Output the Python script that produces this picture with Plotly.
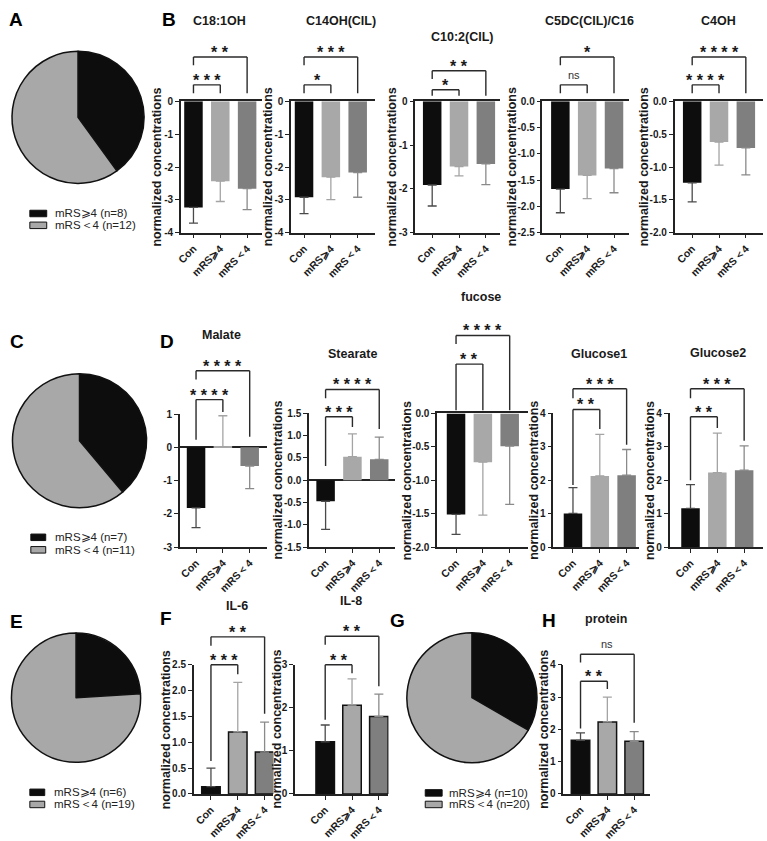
import numpy as np
import plotly.graph_objects as go

W, H = 767, 841
FONT = "Liberation Sans, Arial, sans-serif"
INK = "#1a1a1a"
STEP = 27.0  # px per category


def X(px):
    return px / W


def Y(py):
    return 1 - py / H


# ---------------- data ----------------
groups = ["Con", "mRS⩾4", "mRS＜4"]
bar_colors = ["#0d0d0d", "#a8a8a8", "#7f7f7f"]
err_colors = ["#4a4a4a", "#a4a4a4", "#8a8a8a"]

# B
c18_mean = [-3.23, -2.43, -2.66]
c18_sd = [0.48, 0.62, 0.64]
c18_sig = ["***", "**"]
c14_mean = [-2.92, -2.31, -2.17]
c14_sd = [0.50, 0.68, 0.75]
c14_sig = ["*", "***"]
c10_mean = [-1.91, -1.49, -1.43]
c10_sd = [0.48, 0.21, 0.47]
c10_sig = ["*", "**"]
c5dc_mean = [-1.67, -1.41, -1.28]
c5dc_sd = [0.45, 0.44, 0.46]
c5dc_sig = ["ns", "*"]
c4oh_mean = [-1.24, -0.62, -0.71]
c4oh_sd = [0.29, 0.35, 0.41]
c4oh_sig = ["****", "****"]
# D
malate_mean = [-1.82, 0.02, -0.56]
malate_sd = [0.59, 0.93, 0.68]
malate_sig = ["****", "****"]
stearate_mean = [-0.47, 0.53, 0.47]
stearate_sd = [0.63, 0.51, 0.50]
stearate_sig = ["***", "****"]
fucose_mean = [-1.51, -0.73, -0.49]
fucose_sd = [0.30, 0.79, 0.87]
fucose_sig = ["**", "****"]
glucose1_mean = [1.01, 2.13, 2.15]
glucose1_sd = [0.77, 1.24, 0.77]
glucose1_sig = ["**", "***"]
glucose2_mean = [1.16, 2.23, 2.30]
glucose2_sd = [0.71, 1.18, 0.73]
glucose2_sig = ["**", "***"]
# F
il6_mean = [0.14, 1.20, 0.81]
il6_sd = [0.36, 0.96, 0.58]
il6_sig = ["***", "**"]
il8_mean = [1.21, 2.06, 1.80]
il8_sd = [0.39, 0.61, 0.52]
il8_sig = ["**", "**"]
# H
protein_mean = [1.66, 2.23, 1.63]
protein_sd = [0.23, 0.77, 0.30]
protein_sig = ["**", "ns"]

# pies
pie_labels = ["mRS⩾4", "mRS＜4"]
pie_colors = ["#0d0d0d", "#a8a8a8"]
pieA_n = [8, 12]
pieC_n = [7, 11]
pieE_n = [6, 19]
pieG_n = [10, 20]

# ---------------- layout specs ----------------
TOPB = dict(yt=96.7, yb=230)
BR_TOP = [(80, 88.5, 88.5), (51.7, 60, 88.5)]
panels = [
    dict(title="C18:1OH", tpos=(216, 15), mean=c18_mean, sd=c18_sd, sig=c18_sig,
         x0=177, x1=259, con=189.7, ytx=153.5, yr=(-4, 0), dt=1, dec=0, border=False, br=BR_TOP, **TOPB),
    dict(title="C14OH(CIL)", tpos=(338, 15), mean=c14_mean, sd=c14_sd, sig=c14_sig,
         x0=288, x1=372, con=301, ytx=265, yr=(-4, 0), dt=1, dec=0, border=False, br=BR_TOP, **TOPB),
    dict(title="C10:2(CIL)", tpos=(460, 31.7), mean=c10_mean, sd=c10_sd, sig=c10_sig,
         x0=413, x1=498, con=430, ytx=390, yr=(-3, 0), dt=1, dec=0, border=False,
         br=[(85, 91, 91), (65.7, 74, 91)], **TOPB),
    dict(title="C5DC(CIL)/C16", tpos=(588, 15), mean=c5dc_mean, sd=c5dc_sd, sig=c5dc_sig,
         x0=541, x1=628, con=559, ytx=510.5, yr=(-2.5, 0), dt=0.5, dec=1, border=False, br=BR_TOP, **TOPB),
    dict(title="C4OH", tpos=(718, 15), mean=c4oh_mean, sd=c4oh_sd, sig=c4oh_sig,
         x0=674, x1=763, con=691.7, ytx=643.5, yr=(-2, 0), dt=0.5, dec=1, border=False, br=BR_TOP, **TOPB),
    dict(title="Malate", tpos=(218, 333.3), mean=malate_mean, sd=malate_sd, sig=malate_sig,
         x0=176, x1=264, con=192.3, ytx=None, yt=414, yb=549, yr=(-3, 1), dt=1, dec=0, border=False,
         br=[(399.3, 440, 412), (370, 379, 437)]),
    dict(title="Stearate", tpos=(350, 353.3), mean=stearate_mean, sd=stearate_sd, sig=stearate_sig,
         x0=306, x1=393, con=322.7, ytx=275, yt=413.3, yb=549, yr=(-1.5, 1.5), dt=0.5, dec=1, border=False,
         br=[(416.7, 466.7, 427), (389, 398, 429)]),
    dict(title="fucose", tpos=(479, 295), mean=fucose_mean, sd=fucose_sd, sig=fucose_sig,
         x0=435, x1=526, con=454, ytx=404.5, yt=413.3, yb=549, yr=(-2, 0), dt=0.5, dec=1, border=False,
         br=[(363.3, 410, 410), (334.3, 343, 410)]),
    dict(title="Glucose1", tpos=(598, 353.3), mean=glucose1_mean, sd=glucose1_sd, sig=glucose1_sig,
         x0=552, x1=638, con=571.7, ytx=533, yt=413.3, yb=549, yr=(0, 4), dt=1, dec=0, border=False,
         br=[(409.3, 486, 429), (388.3, 398, 445)]),
    dict(title="Glucose2", tpos=(718, 351.7), mean=glucose2_mean, sd=glucose2_sd, sig=glucose2_sig,
         x0=669, x1=763, con=690, ytx=650, yt=413.3, yb=549, yr=(0, 4), dt=1, dec=0, border=False,
         br=[(416.7, 481, 428), (388.3, 398, 441)]),
    dict(title="IL-6", tpos=(233.3, 608.3), mean=il6_mean, sd=il6_sd, sig=il6_sig,
         x0=190, x1=270, con=207.3, ytx=162, yt=668.3, yb=799.3, yr=(0, 2.5), dt=0.5, dec=1, border=True,
         br=[(668.3, 766, 678), (640, 649, 718)]),
    dict(title="IL-8", tpos=(348.3, 603.3), mean=il8_mean, sd=il8_sd, sig=il8_sig,
         x0=292, x1=386, con=322.3, ytx=274, yt=668.3, yb=799.3, yr=(0, 3), dt=1, dec=0, border=True,
         br=[(668.3, 724, 677), (639.3, 648, 690)]),
    dict(title="protein", tpos=(605, 621.7), mean=protein_mean, sd=protein_sd, sig=protein_sig,
         x0=562, x1=649, con=579.3, ytx=543, yt=668.3, yb=799.3, yr=(0, 4), dt=1, dec=0, border=True,
         br=[(685, 733, 693), (657.7, 666, 727)]),
]

pies = [
    dict(n=pieA_n, c=(73.5, 113), r=67, box=(25, 42), rows=(210.5, 222.5), tx=48),
    dict(n=pieC_n, c=(75, 441), r=68, box=(26, 41), rows=(539, 551.7), tx=48),
    dict(n=pieE_n, c=(71.5, 701.7), r=65.5, box=(25, 40), rows=(797.7, 810), tx=47),
    dict(n=pieG_n, c=(470, 701.7), r=66, box=(423, 440), rows=(798.3, 810), tx=445),
]

letters = [("A", 11, 14), ("B", 165, 14), ("C", 12, 340), ("D", 163, 340),
           ("E", 12, 624), ("F", 162, 621), ("G", 395, 623), ("H", 548, 623)]

# ---------------- build ----------------
fig = go.Figure()
layout = dict(width=W, height=H, margin=dict(l=0, r=0, t=0, b=0),
              paper_bgcolor="white", plot_bgcolor="rgba(0,0,0,0)",
              barmode="overlay", showlegend=False,
              font=dict(family=FONT, color=INK))
shapes, annotations = [], []

for n, p in enumerate(panels, start=1):
    sx = "" if n == 1 else str(n)
    xa, ya = "x" + sx, "y" + sx
    mean, sd = p["mean"], p["sd"]
    for i in range(len(groups)):
        up = sd[i] if mean[i] >= 0 else 0
        dn = sd[i] if mean[i] < 0 else 0
        fig.add_trace(go.Bar(
            x=[i], y=[mean[i]], width=0.69, xaxis=xa, yaxis=ya,
            marker=dict(color=bar_colors[i],
                        line=dict(color="#111111", width=1.5 if p["border"] else 0)),
            error_y=dict(type="data", symmetric=False, array=[up], arrayminus=[dn],
                         color=err_colors[i], thickness=1.3, width=4.5),
            showlegend=False, hoverinfo="skip"))
    lo = (p["x0"] - p["con"]) / STEP
    hi = lo + (p["x1"] - p["x0"]) / STEP
    y0r, y1r = p["yr"]
    neg_only = y1r == 0
    mixed = y0r < 0 < y1r
    tv = [round(v, 6) + 0.0 for v in np.arange(y0r, y1r + p["dt"] / 2, p["dt"])]
    tt = [f"{v:.{p['dec']}f}" for v in tv]
    layout["xaxis" + sx] = dict(
        domain=[X(p["x0"]), X(p["x1"])], range=[lo, hi], anchor=ya,
        tickvals=list(range(len(groups))), ticktext=groups, tickangle=-45,
        tickfont=dict(family=FONT, size=10.5, color=INK, weight="bold"),
        ticks="outside", ticklen=4, tickwidth=1.3, tickcolor="#222",
        showline=True, linecolor="#222", linewidth=1.5, mirror=neg_only,
        showgrid=False, zeroline=False, fixedrange=True)
    layout["yaxis" + sx] = dict(
        domain=[Y(p["yb"]), Y(p["yt"])], range=[y0r, y1r], anchor=xa,
        tickvals=tv, ticktext=tt,
        tickfont=dict(family=FONT, size=10, color=INK, weight="bold"),
        ticks="outside", ticklen=4, tickwidth=1.3, tickcolor="#222",
        showline=True, linecolor="#222", linewidth=1.5,
        showgrid=False, zeroline=mixed, zerolinecolor="#222", zerolinewidth=1.5,
        fixedrange=True)
    # panel title
    annotations.append(dict(text=p["title"], x=X(p["tpos"][0]), y=Y(p["tpos"][1]),
                            xref="paper", yref="paper", showarrow=False,
                            xanchor="center", yanchor="middle",
                            font=dict(family=FONT, size=12.5, color=INK, weight="bold")))
    # y title
    if p["ytx"] is not None:
        annotations.append(dict(text="normalized concentrations", x=X(p["ytx"]),
                                y=Y((p["yt"] + p["yb"]) / 2), xref="paper", yref="paper",
                                showarrow=False, textangle=-90, xanchor="center", yanchor="middle",
                                font=dict(family=FONT, size=12.5, color=INK, weight="bold")))
    # significance brackets
    for (j, (top, lb, rb)), lab in zip(enumerate(p["br"]), p["sig"]):
        a, b = 0, j + 1
        for (xx0, yy0, xx1, yy1) in [(a, lb, a, top), (a, top, b, top), (b, top, b, rb)]:
            shapes.append(dict(type="line", xref=xa, yref="paper",
                               x0=xx0, x1=xx1, y0=Y(yy0), y1=Y(yy1),
                               line=dict(color="#2a2a2a", width=1.4)))
        if lab == "ns":
            ty, fnt = top - 10, dict(family=FONT, size=11, color="#333")
        else:
            ty, fnt = top - 4.6, dict(family=FONT, size=16, color=INK, weight="bold")
        annotations.append(dict(text=" ".join(lab) if lab != "ns" else lab,
                                x=(a + b) / 2, y=Y(ty), xref=xa, yref="paper",
                                showarrow=False, xanchor="center", yanchor="middle", font=fnt))

# pies + legends
for q in pies:
    cx, cy = q["c"]
    r = q["r"]
    fig.add_trace(go.Pie(
        values=q["n"], labels=pie_labels, sort=False, direction="clockwise", rotation=0,
        marker=dict(colors=pie_colors, line=dict(color="#111111", width=1.5)),
        textinfo="none", hoverinfo="skip", showlegend=False,
        domain=dict(x=[X(cx - r), X(cx + r)], y=[Y(cy + r), Y(cy - r)])))
    for k, (lab, cnt) in enumerate(zip(pie_labels, q["n"])):
        ry = q["rows"][k]
        shapes.append(dict(type="rect", xref="paper", yref="paper",
                           x0=X(q["box"][0]), x1=X(q["box"][1]), y0=Y(ry + 3.3), y1=Y(ry - 3.3),
                           fillcolor=pie_colors[k], line=dict(color="#111111", width=1)))
        annotations.append(dict(text=f"{lab} (n={cnt})", x=X(q["tx"]), y=Y(ry),
                                xref="paper", yref="paper", showarrow=False,
                                xanchor="left", yanchor="middle",
                                font=dict(family=FONT, size=11.5, color="#222")))

for (t, lx, ly) in letters:
    annotations.append(dict(text=t, x=X(lx), y=Y(ly), xref="paper", yref="paper",
                            showarrow=False, xanchor="center", yanchor="middle",
                            font=dict(family=FONT, size=19, color="#000", weight="bold")))

layout["shapes"] = shapes
layout["annotations"] = annotations
fig.update_layout(**layout)
fig.write_html("out.html")
